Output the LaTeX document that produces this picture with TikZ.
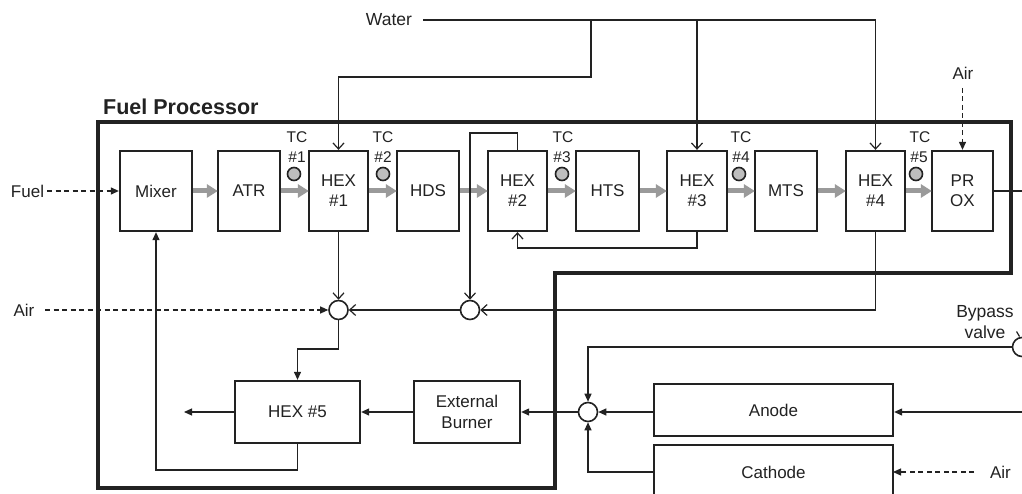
\documentclass[tikz,border=0pt]{standalone}
\usepackage{fontspec}
\setmainfont{Liberation Sans}
\usetikzlibrary{arrows.meta}
\definecolor{flowgray}{HTML}{9A9A9A}
\definecolor{tcgray}{HTML}{BEBEBE}
\definecolor{ink}{HTML}{222222}
\tikzset{
  lbl/.style={font=\fontsize{17}{20}\selectfont, align=center, inner sep=0pt, text=ink},
  tclbl/.style={font=\fontsize{15.5}{18}\selectfont, inner sep=0pt, text=ink},
  unitbox/.style={draw=ink, line width=2.3pt, minimum height=80pt, font=\fontsize{17}{20}\selectfont, align=center, inner sep=0pt, text=ink},
  lowbox/.style={draw=ink, line width=2.3pt, minimum height=62pt, font=\fontsize{17}{21}\selectfont, align=center, inner sep=0pt, text=ink},
  tcdot/.style={circle, draw=ink, fill=tcgray, line width=1.6pt, minimum size=13pt, inner sep=0pt},
  junction/.style={circle, draw=ink, fill=white, line width=1.6pt, minimum size=19pt, inner sep=0pt},
  thin/.style={draw=ink, line width=1.2pt},
  openarr/.style={thin, -{Straight Barb[length=6pt,width=11pt,line width=1.2pt]}},
  fillarr/.style={thin, -{Triangle[length=8pt,width=7pt]}},
  dasharr/.style={thin, dash pattern=on 5pt off 3.5pt, -{Triangle[length=8pt,width=7pt]}},
  grayarr/.style={draw=flowgray, line width=5pt, -{Triangle[length=11pt,width=13pt]}, shorten >=-1pt},
}
\begin{document}
\begin{tikzpicture}[x=1pt,y=-1pt]
\useasboundingbox (0,0) rectangle (1022,494);
\clip (0,0) rectangle (1022,494);
\fill[white] (0,0) rectangle (1022,494);

% outer fuel processor frame
\draw[ink, line width=3.5pt] (98,122) -- (1011,122) -- (1011,273) -- (555,273) -- (555,488) -- (98,488) -- cycle;
\node[font=\fontsize{21.5}{24}\selectfont\bfseries, inner sep=0pt, anchor=base west, text=ink] (fp) at (103,115) {Fuel Processor};

% main units
\node[unitbox, minimum width=72pt] (mixer) at (156,191) {Mixer};
\node[unitbox, minimum width=62pt] (atr) at (249,191) {ATR};
\node[unitbox, minimum width=59pt] (hex1) at (338.5,191) {HEX\\\#1};
\node[unitbox, minimum width=62pt] (hds) at (428,191) {HDS};
\node[unitbox, minimum width=59pt] (hex2) at (517.5,191) {HEX\\\#2};
\node[unitbox, minimum width=63pt] (hts) at (607.5,191) {HTS};
\node[unitbox, minimum width=60pt] (hex3) at (697,191) {HEX\\\#3};
\node[unitbox, minimum width=62pt] (mts) at (786,191) {MTS};
\node[unitbox, minimum width=59pt] (hex4) at (875.5,191) {HEX\\\#4};
\node[unitbox, minimum width=61pt] (prox) at (962.5,191) {PR\\OX};

% gray process arrows
\draw[grayarr] (mixer.east) -- (atr.west);
\draw[grayarr] (atr.east) -- (hex1.west);
\draw[grayarr] (hex1.east) -- (hds.west);
\draw[grayarr] (hds.east) -- (hex2.west);
\draw[grayarr] (hex2.east) -- (hts.west);
\draw[grayarr] (hts.east) -- (hex3.west);
\draw[grayarr] (hex3.east) -- (mts.west);
\draw[grayarr] (mts.east) -- (hex4.west);
\draw[grayarr] (hex4.east) -- (prox.west);

% thermocouples
\node[tclbl] (tc1a) at (297,137) {TC};
\node[tclbl] (tc1b) at (297,157) {\#1};
\node[tcdot] (tc1) at (294,174) {};
\node[tclbl] (tc2a) at (383,137) {TC};
\node[tclbl] (tc2b) at (383,157) {\#2};
\node[tcdot] (tc2) at (383,174) {};
\node[tclbl] (tc3a) at (563,137) {TC};
\node[tclbl] (tc3b) at (562,157) {\#3};
\node[tcdot] (tc3) at (562,174) {};
\node[tclbl] (tc4a) at (741,137) {TC};
\node[tclbl] (tc4b) at (741,157) {\#4};
\node[tcdot] (tc4) at (739,174) {};
\node[tclbl] (tc5a) at (920,137) {TC};
\node[tclbl] (tc5b) at (919,157) {\#5};
\node[tcdot] (tc5) at (916,174) {};

% water supply
\node[lbl, font=\fontsize{17.5}{20}\selectfont] (water) at (389,20) {Water};
\coordinate (w0) at (423,20);
\coordinate (wb1) at (591,20);
\coordinate (wb1d) at (591,77);
\draw[openarr] (w0) -| (hex4.north);
\draw[openarr] (wb1) -- (wb1d) -| (hex1.north);
\draw[openarr] (hex3.north |- w0) -- (hex3.north);

% fuel inlet
\node[lbl] (fuel) at (27.5,191) {Fuel};
\coordinate (fuel0) at (47,191);
\draw[dasharr] (fuel0) -- (mixer.west);

% air to PROX
\node[lbl] (airtop) at (963,73) {Air};
\coordinate (airtop0) at (962.5,88);
\draw[dasharr] (airtop0) -- (prox.north);

% PROX outlet
\coordinate (proxout) at (1022,191);
\draw[thin] (prox.east) -- (proxout);

% mixing junctions
\node[junction] (c1) at (338.5,310) {};
\node[junction] (c2) at (470,310) {};
\draw[openarr] (hex1.south) -- (c1.north);
\coordinate (h2top) at (470,133);
\draw[openarr] (hex2.north) |- (h2top) -- (c2.north);
\coordinate (h3bot) at (697,248);
\draw[openarr] (hex3.south) -- (h3bot) -| (hex2.south);
\draw[openarr] (hex4.south) |- (c2.east);
\draw[openarr] (c2.west) -- (c1.east);

\node[lbl] (airleft) at (24,310) {Air};
\coordinate (airleft0) at (45,310);
\draw[dasharr] (airleft0) -- (c1.west);

% lower units
\node[lowbox, minimum width=125pt] (hex5) at (297.5,412) {HEX \#5};
\node[lowbox, minimum width=106pt] (burner) at (467,412) {External\\Burner};
\coordinate (c1d) at (338.5,349);
\draw[fillarr] (c1.south) -- (c1d) -| (hex5.north);
\coordinate (exhaust) at (184,412);
\draw[fillarr] (hex5.west) -- (exhaust);
\draw[fillarr] (burner.west) -- (hex5.east);
\coordinate (h5loop) at (297.5,470);
\draw[fillarr] (hex5.south) -- (h5loop) -| (mixer.south);

% fuel cell stack
\node[draw=ink, line width=2.3pt, minimum width=239pt, minimum height=52pt, inner sep=0pt] (anode) at (773.5,410) {};
\node[lbl] (anodetxt) at (773.5,410) {Anode};
\draw[ink, line width=2.3pt] (654,520) -- (654,445) -- (893,445) -- (893,520);
\node[lbl] (cathode) at (773.5,472) {Cathode};
\coordinate (cathW) at (654,472);
\coordinate (cathE) at (893,472);

\node[junction] (c3) at (588,412) {};
\draw[fillarr] (anode.west |- c3) -- (c3.east);
\draw[fillarr] (cathW) -| (c3.south);
\draw[fillarr] (c3.west) -- (burner.east);

% bypass valve
\node[junction] (valve) at (1022,347) {};
\node[lbl, font=\fontsize{17.5}{21}\selectfont] (bypass) at (985,322) {Bypass\\valve};
\draw[thin] (1016.5,331.5) -- (1019.5,336.5);
\draw[fillarr] (valve.west) -| (c3.north);

% anode feed and cathode air
\coordinate (anodein) at (1022,412);
\draw[fillarr] (anodein) -- (anode.east |- anodein);
\node[lbl] (airright) at (1000.5,472) {Air};
\coordinate (airright0) at (974,472);
\draw[dasharr] (airright0) -- (cathE);
\end{tikzpicture}
\end{document}
